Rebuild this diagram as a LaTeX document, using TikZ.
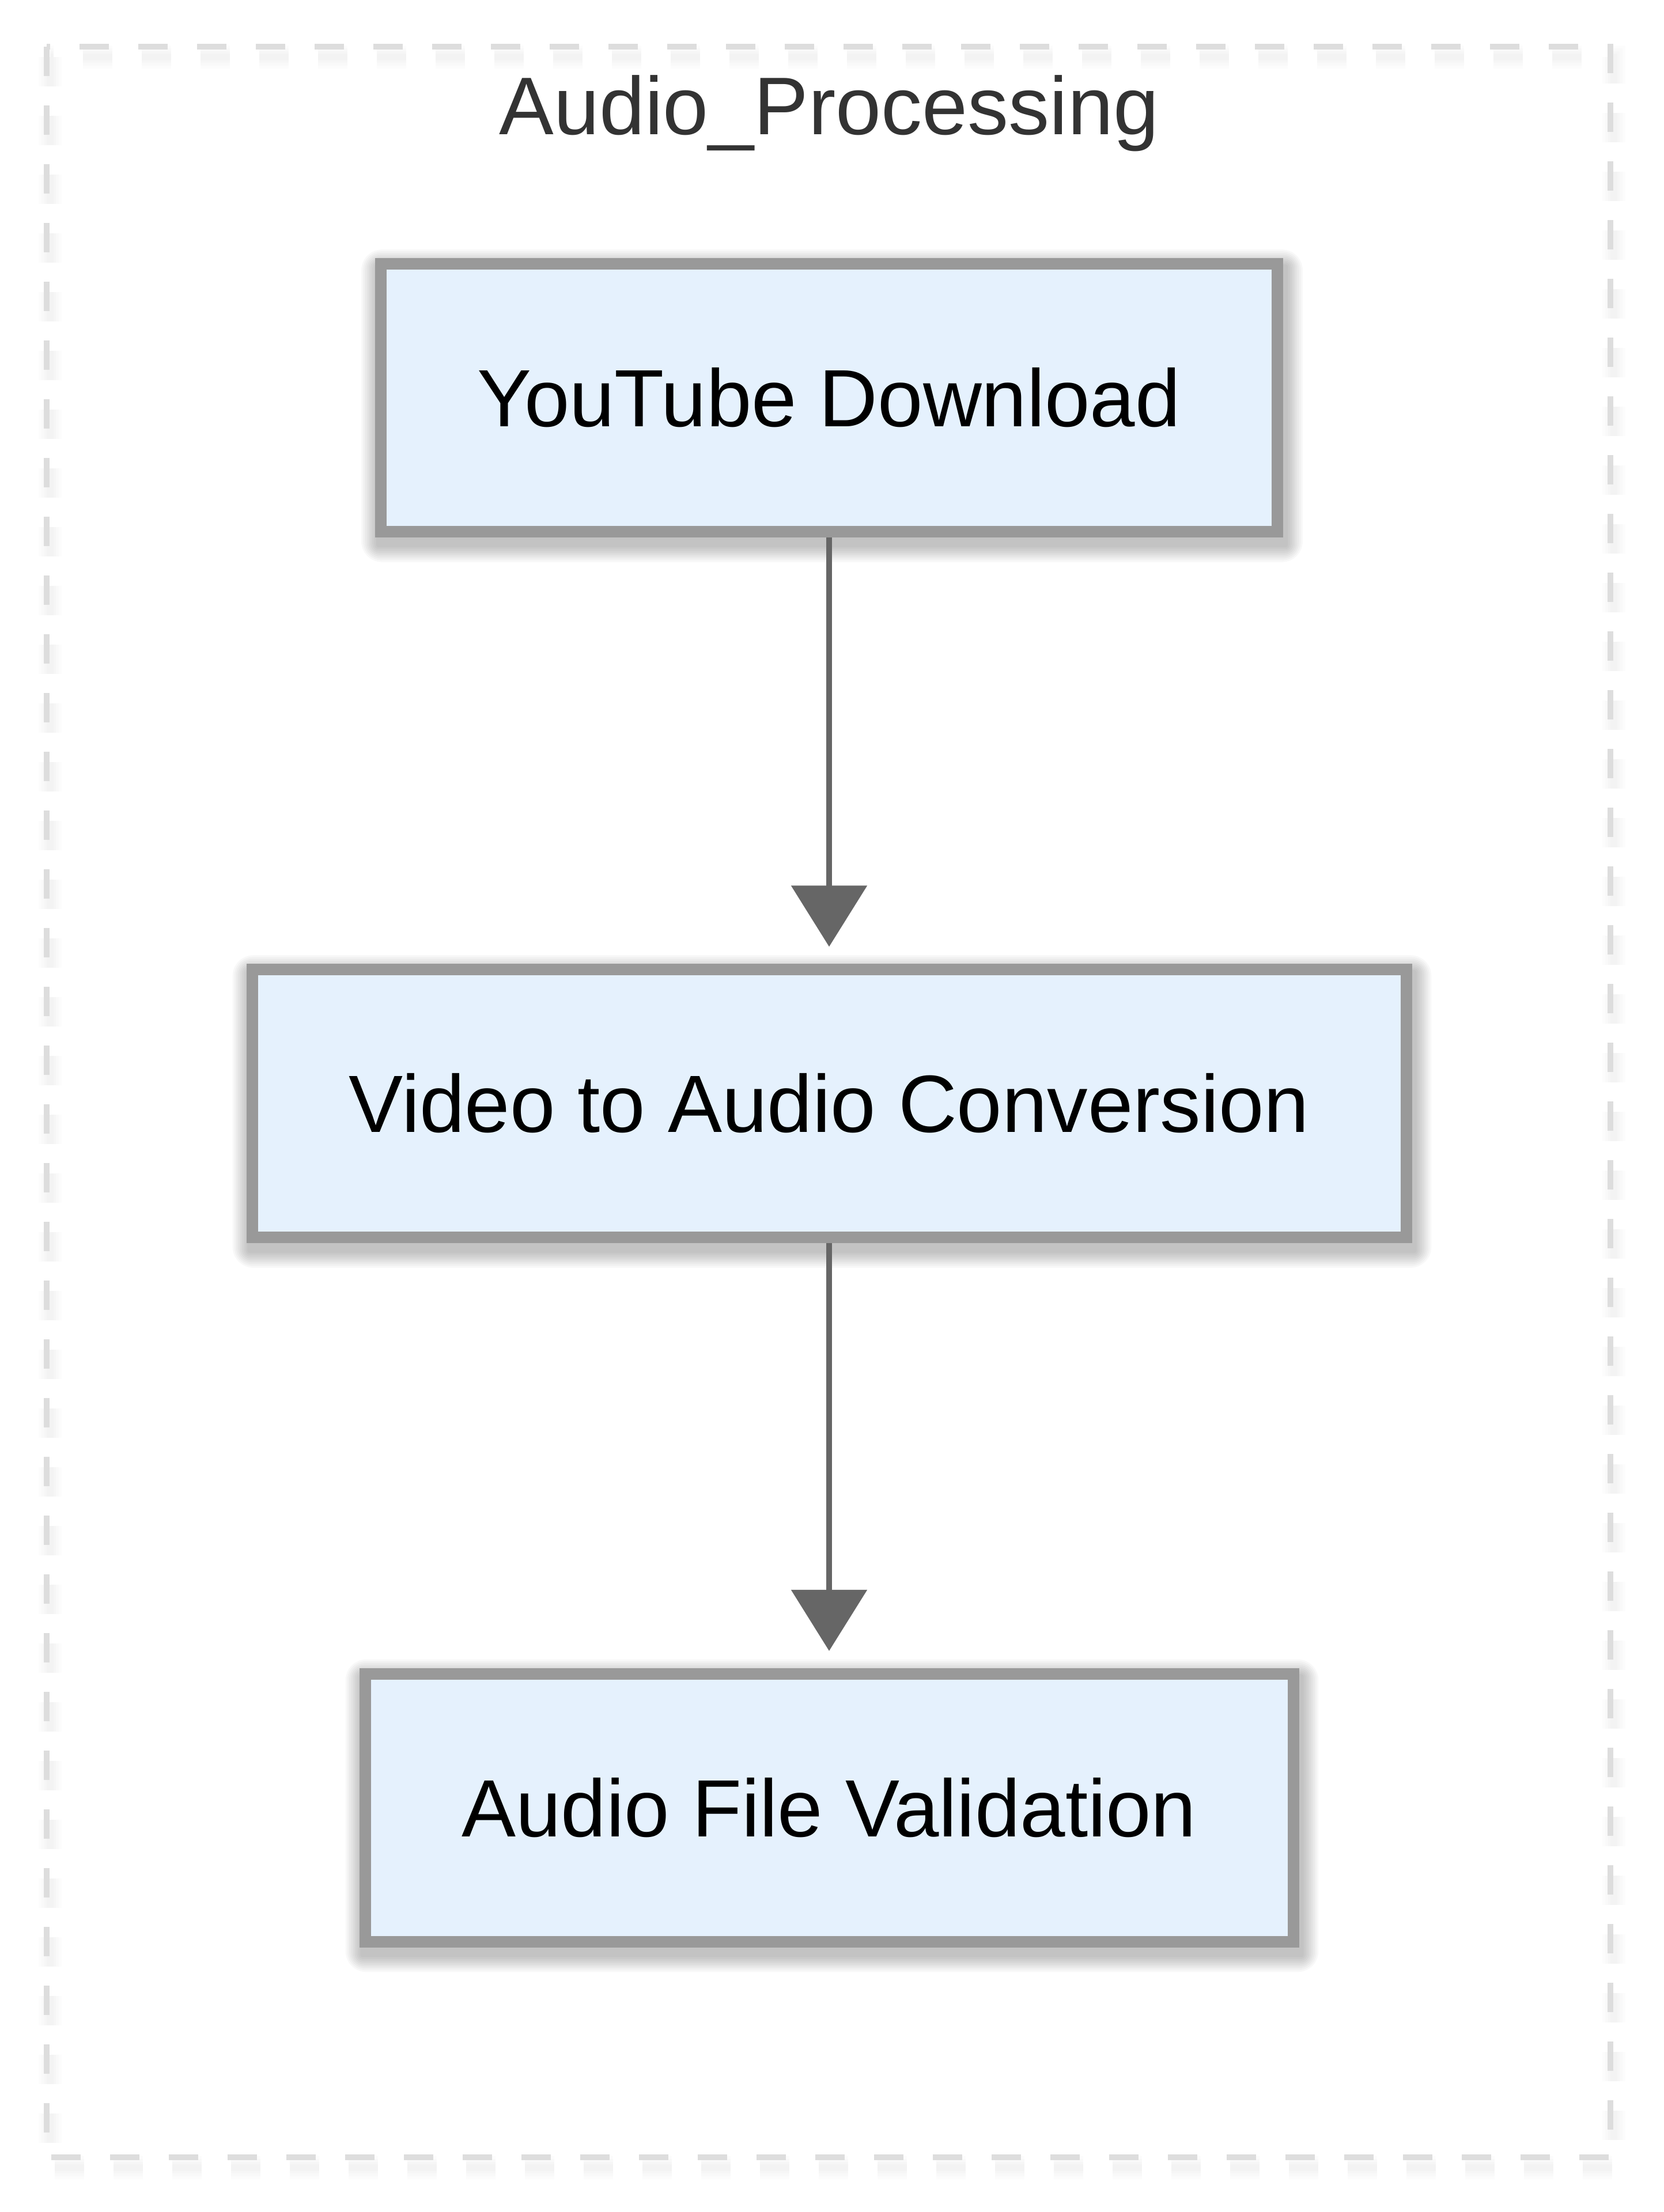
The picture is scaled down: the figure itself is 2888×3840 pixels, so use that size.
\documentclass[tikz,border=0pt]{standalone}
\usepackage{fontspec}
\setmainfont{Liberation Sans}
\usetikzlibrary{arrows.meta,calc,backgrounds}
\pgfdeclarelayer{shadowlayer}
\pgfsetlayers{background,shadowlayer,main}
\definecolor{boxfill}{HTML}{E5F1FD}
\definecolor{boxline}{HTML}{999999}
\definecolor{frameline}{HTML}{DDDDDD}
\definecolor{arrowcol}{HTML}{666666}
\definecolor{titlecol}{HTML}{333333}
\begin{document}
\begin{tikzpicture}[x=0.25pt,y=-0.25pt,
  procbox/.style={draw=boxline, fill=boxfill, line width=5pt, inner xsep=42pt,
    minimum height=116.25pt, text height=25.2pt, text depth=0pt,
    font=\fontsize{35.25pt}{42pt}\selectfont, text=black},
  flow/.style={draw=arrowcol, line width=2.3pt,
    -{Triangle[length=26.5pt,width=32.5pt]}, shorten >=7.4pt},
  framestyle/.style={draw=frameline, line width=2.4pt, dash pattern=on 12.75pt off 12.75pt},
  titlestyle/.style={font=\fontsize{35.5pt}{42pt}\selectfont, text=titlecol, anchor=base, inner sep=0pt}]
\useasboundingbox (0,0) rectangle (2888,3840);
\coordinate (frameTL) at (81,81);
\coordinate (frameBR) at (2795,3745);
\begin{pgfonlayer}{background}
  \fill[white] (0,0) rectangle (2888,3840);
  \foreach \w in {10,7.5,5,3}{
    \draw[black, opacity=0.01, line width=\w pt, dash pattern=on 12.75pt off 12.75pt]
      ($(frameTL)+(6,18)$) rectangle ($(frameBR)+(6,18)$);
  }
  \draw[framestyle] (frameTL) rectangle (frameBR);
\end{pgfonlayer}

\node[titlestyle] (title) at (1439,234) {Audio\_Processing};

\node[procbox] (b1) at (1439,690.5) {YouTube Download};
\node[procbox] (b2) at (1439,1915.5) {Video to Audio Conversion};
\node[procbox] (b3) at (1439,3138) {Audio File Validation};

\begin{pgfonlayer}{shadowlayer}
  \foreach \n in {b1,b2,b3}{
    \foreach \k in {1,...,9}{
      \pgfmathsetmacro\s{\k*3.2}
      \pgfmathsetmacro\rc{\k*1.0}
      \fill[black, opacity=0.028, rounded corners=\rc pt]
        ($(\n.south west)+(5-\s,14+\s)$) rectangle ($(\n.north east)+(5+\s,14-\s)$);
    }
  }
\end{pgfonlayer}

\draw[flow] (b1.south) -- (b2.north);
\draw[flow] (b2.south) -- (b3.north);
\end{tikzpicture}
\end{document}
